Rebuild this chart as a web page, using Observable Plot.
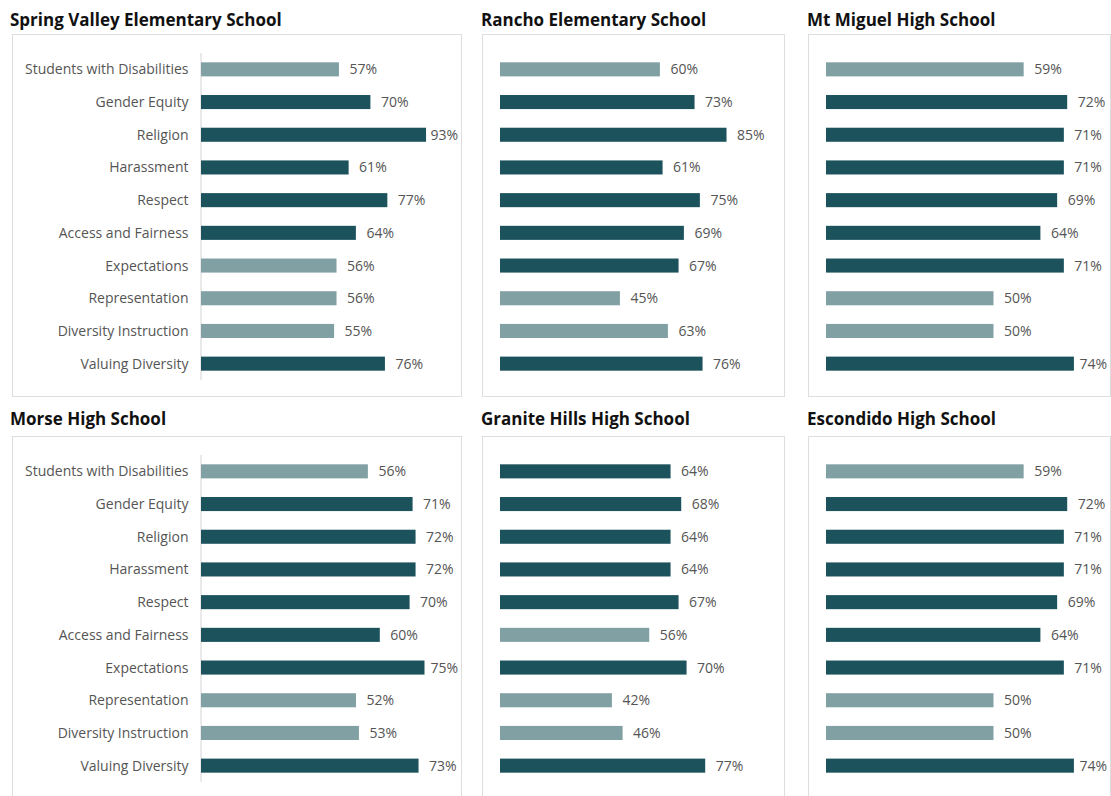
<!DOCTYPE html>
<html><head><meta charset="utf-8">
<script src="https://cdn.jsdelivr.net/npm/d3@7"></script>
<script src="https://cdn.jsdelivr.net/npm/@observablehq/plot@0.6"></script>
<style>
html,body{margin:0;padding:0;background:#fff}
body{font-family:"Open Sans",sans-serif;width:1111px;height:796px;overflow:hidden;position:relative}
.title{position:absolute;font-weight:700;font-size:17px;color:#111;line-height:18px;white-space:nowrap}
.box{position:absolute;border:1px solid #dedede;box-sizing:border-box;overflow:visible}
.box svg{display:block}
</style></head><body>
<script>
// ---- data ----
const categories = ["Students with Disabilities", "Gender Equity", "Religion", "Harassment", "Respect",
  "Access and Fairness", "Expectations", "Representation", "Diversity Instruction", "Valuing Diversity"];
const schools = ["Spring Valley Elementary School", "Rancho Elementary School", "Mt Miguel High School",
  "Morse High School", "Granite Hills High School", "Escondido High School"];
const springValley = [57, 70, 93, 61, 77, 64, 56, 56, 55, 76];
const rancho       = [60, 73, 85, 61, 75, 69, 67, 45, 63, 76];
const mtMiguel     = [59, 72, 71, 71, 69, 64, 71, 50, 50, 74];
const morse        = [56, 71, 72, 72, 70, 60, 75, 52, 53, 73];
const graniteHills = [64, 68, 64, 64, 67, 56, 70, 42, 46, 77];
const escondido    = [59, 72, 71, 71, 69, 64, 71, 50, 50, 74];
// group of each bar: "light" or "dark"
const springValleyGroup = ["light","dark","dark","dark","dark","dark","light","light","light","dark"];
const ranchoGroup       = ["light","dark","dark","dark","dark","dark","dark","light","light","dark"];
const mtMiguelGroup     = ["light","dark","dark","dark","dark","dark","dark","light","light","dark"];
const morseGroup        = ["light","dark","dark","dark","dark","dark","dark","light","light","dark"];
const graniteHillsGroup = ["dark","dark","dark","dark","dark","light","dark","light","light","dark"];
const escondidoGroup    = ["light","dark","dark","dark","dark","dark","dark","light","light","dark"];
const seriesValues = [springValley, rancho, mtMiguel, morse, graniteHills, escondido];
const seriesGroups = [springValleyGroup, ranchoGroup, mtMiguelGroup, morseGroup, graniteHillsGroup, escondidoGroup];

// ---- layout / style ----
const colors = {light: "#81a0a4", dark: "#1b525c"};
const colLeft = [12, 482, 808], colWidth = [450, 303, 303], titleLeft = [10, 481, 807];
const rowTitleTop = [11, 410], rowBoxTop = [34, 436], boxHeight = 363;
const pxPerPct = [2.42, 2.665, 3.35, 2.98, 2.665, 3.35];
const font = "'Open Sans', sans-serif";

schools.forEach((school, i) => {
  const col = i % 3, row = Math.floor(i / 3);
  const t = document.createElement("div");
  t.className = "title";
  t.textContent = school;
  t.style.left = titleLeft[col] + "px";
  t.style.top = rowTitleTop[row] + "px";
  document.body.appendChild(t);

  const box = document.createElement("div");
  box.className = "box";
  box.style.left = colLeft[col] + "px";
  box.style.top = rowBoxTop[row] + "px";
  box.style.width = colWidth[col] + "px";
  box.style.height = boxHeight + "px";
  document.body.appendChild(box);

  const rows = categories.map((c, j) => ({category: c, value: seriesValues[i][j], group: seriesGroups[i][j]}));
  const W = colWidth[col] - 2;
  const ml = col === 0 ? 188 : 17;
  const k = pxPerPct[i];
  const svg = Plot.plot({
    width: W, height: 361,
    marginTop: 18, marginBottom: 16, marginLeft: ml, marginRight: 0,
    x: {domain: [0, 100], range: [ml, ml + 100 * k], axis: null},
    y: {domain: categories, paddingInner: 0.57, paddingOuter: 0.285, round: false,
        axis: col === 0 ? "left" : null, tickSize: 0, tickPadding: 13, label: null},
    color: {domain: ["light", "dark"], range: [colors.light, colors.dark]},
    style: {fontFamily: font, fontSize: "14px", color: "#555", background: "transparent", overflow: "visible"},
    marks: [
      col === 0 ? Plot.ruleX([0], {stroke: "#d4d4d4", dx: -0.5}) : null,
      Plot.barX(rows, {x: "value", y: "category", fill: "group"}),
      Plot.text(rows, {x: "value", y: "category", text: d => d.value + "%", textAnchor: "start", dx: 10, fill: "#555", fontSize: 14})
    ]
  });
  box.appendChild(svg);
  // keep value labels inside the panel
  const sr = svg.getBoundingClientRect();
  svg.querySelectorAll('g[aria-label="text"] text').forEach(tx => {
    const r = tx.getBoundingClientRect();
    const over = r.right - (sr.right - 3);
    if (over > 0) tx.setAttribute("transform", (tx.getAttribute("transform") || "") + ` translate(${-over},0)`);
  });
});
</script>
</body></html>
